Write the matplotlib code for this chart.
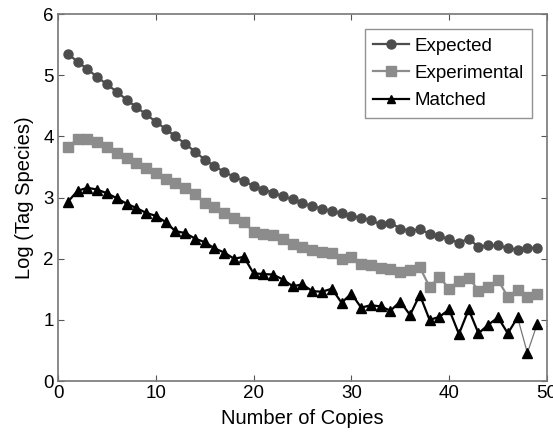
#!/usr/bin/env python3
"""
Tag species vs number of copies (expected / experimental / matched)
"""

import matplotlib
matplotlib.use('Agg')
import matplotlib.pyplot as plt
import numpy as np

copies = list(range(1, 50))

expected = [5.35, 5.22, 5.10, 4.97, 4.85, 4.73, 4.60, 4.48, 4.36, 4.24,
            4.12, 4.00, 3.88, 3.75, 3.62, 3.51, 3.42, 3.34, 3.27, 3.19,
            3.13, 3.08, 3.02, 2.97, 2.91, 2.86, 2.82, 2.78, 2.74, 2.70,
            2.67, 2.63, 2.56, 2.59, 2.49, 2.46, 2.48, 2.41, 2.37, 2.32,
            2.26, 2.33, 2.19, 2.22, 2.22, 2.17, 2.15, 2.18, 2.18]

experimental = [3.83, 3.95, 3.95, 3.90, 3.82, 3.73, 3.65, 3.57, 3.49, 3.40,
                3.31, 3.23, 3.15, 3.05, 2.91, 2.84, 2.75, 2.67, 2.60, 2.44,
                2.41, 2.38, 2.32, 2.24, 2.19, 2.15, 2.11, 2.09, 2.00, 2.03,
                1.92, 1.90, 1.84, 1.83, 1.79, 1.81, 1.86, 1.54, 1.70, 1.51,
                1.64, 1.69, 1.48, 1.53, 1.65, 1.38, 1.49, 1.38, 1.42]

matched = [2.93, 3.11, 3.16, 3.13, 3.07, 2.99, 2.90, 2.83, 2.75, 2.70,
           2.60, 2.45, 2.42, 2.33, 2.27, 2.17, 2.10, 2.00, 2.03, 1.76,
           1.75, 1.74, 1.66, 1.55, 1.58, 1.47, 1.46, 1.51, 1.28, 1.43,
           1.20, 1.24, 1.22, 1.15, 1.30, 1.08, 1.41, 1.00, 1.05, 1.17,
           0.77, 1.17, 0.78, 0.92, 1.04, 0.78, 1.04, 0.46, 0.93]

plt.rcParams['font.family'] = ['Liberation Sans', 'DejaVu Sans']

fig = plt.figure(figsize=(5.53, 4.38), dpi=100)
ax = fig.add_axes([0.105, 0.130, 0.884, 0.838])

ax.plot(copies, expected, color='#4d4d4d', linewidth=1.6, marker='o',
        markersize=6.5, label='Expected')
ax.plot(copies, experimental, color='#8c8c8c', linewidth=1.6, marker='s',
        markersize=6.5, label='Experimental')
# last few matched points are joined by a thinner line in the original
ax.plot(copies[46:], matched[46:], color='#777777', linewidth=0.9)
ax.plot(copies[:47], matched[:47], color='black', linewidth=1.6)
ax.plot(copies, matched, color='black', linewidth=0, marker='^',
        markersize=6.5)
ax.plot([], [], color='black', linewidth=1.6, marker='^', markersize=6,
        label='Matched')

ax.set_xlim(0, 50)
ax.set_ylim(0, 6)
ax.set_xticks([0, 10, 20, 30, 40, 50])
ax.set_yticks([0, 1, 2, 3, 4, 5, 6])
ax.tick_params(direction='in', top=True, right=True, length=4,
               labelsize=13.5, color='#555555', pad=3)
for s in ax.spines.values():
    s.set_color('#777777')
    s.set_linewidth(1.2)

ax.set_xlabel('Number of Copies', fontsize=14.5, labelpad=5)
ax.set_ylabel('Log (Tag Species)', fontsize=14.5, labelpad=7)

leg = ax.legend(loc='upper right', fontsize=13.5, frameon=True, fancybox=False,
                handlelength=1.9, handletextpad=0.3, labelspacing=0.55,
                borderpad=0.45, borderaxespad=0.8)
leg.get_frame().set_edgecolor('#777777')
leg.get_frame().set_linewidth(1.0)

fig.savefig('out.png', dpi=100)
